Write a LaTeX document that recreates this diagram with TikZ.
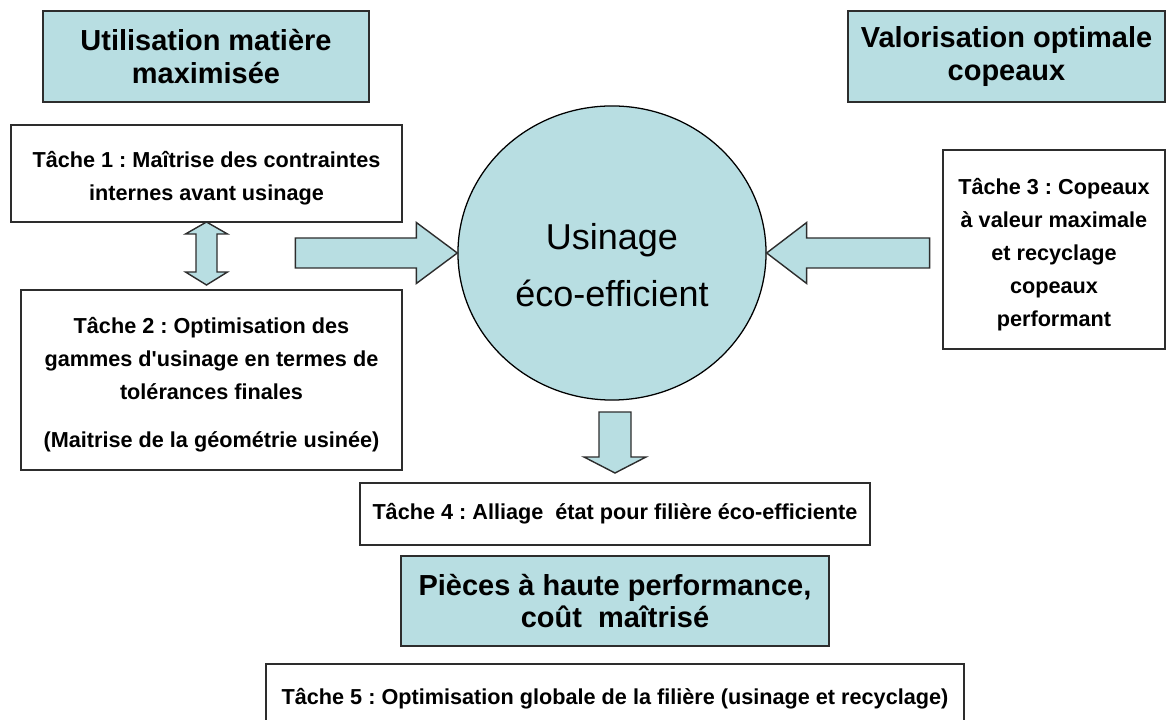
\documentclass[tikz,border=0pt]{standalone}
\usepackage{fontspec}
\setmainfont{Liberation Sans}
\usetikzlibrary{positioning,shapes.geometric}
\definecolor{bleuclair}{RGB}{184,222,226}
\definecolor{bordgris}{RGB}{45,45,45}
\tikzset{
	titre/.style={draw=bordgris, line width=1.4pt, fill=bleuclair, align=center, inner sep=0pt,
		font=\frenchspacing\bfseries\fontsize{20.6}{22.8}\selectfont},
	tache/.style={draw=bordgris, line width=1.4pt, fill=white, align=center, inner sep=0pt,
		font=\frenchspacing\bfseries\fontsize{15.4}{23.5}\selectfont},
	fleche/.style={draw=bordgris, line width=1pt, fill=bleuclair, line join=miter},
}
\begin{document}
\begin{tikzpicture}[x=0.025cm, y=-0.025cm]
			\useasboundingbox (0,0) rectangle (1166,720);
			\node[titre, minimum width=8.15cm, minimum height=2.275cm] (titreMatiere) at (206,56.5) {Utilisation matière\\maximisée};
			\node[titre, minimum width=7.925cm, minimum height=2.275cm] (titreCopeaux) at (1006.5,56.5) {Valorisation optimale\\copeaux};
			
			\node[tache, text height=42.2pt, minimum width=9.775cm, minimum height=2.425cm] (tache1) at (206.5,173.5) {Tâche 1 : Maîtrise des contraintes\\internes avant usinage};
			\node[tache, text height=99.9pt, minimum width=9.525cm, minimum height=4.5cm] (tache2) at (211.5,380) {Tâche 2 : Optimisation des\\gammes d\textquotesingle usinage en termes de\\tolérances finales\\[10.7pt](Maitrise de la géométrie usinée)};
			\node[tache, text height=112.7pt, minimum width=5.55cm, minimum height=4.975cm] (tache3) at (1054,249.5) {Tâche 3 : Copeaux\\à valeur maximale\\et recyclage\\copeaux\\performant};
			
			\node[ellipse, draw=black, line width=0.9pt, fill=bleuclair, minimum width=7.7cm, minimum height=7.35cm, inner sep=0pt,
				align=center, text height=76.5pt, text depth=0pt, font=\fontsize{25.6}{40.5}\selectfont] (usinage) at (612,253) {Usinage\\éco-efficient};
			
			\node[tache, minimum width=12.75cm, minimum height=1.55cm] (tache4) at (615,514) {Tâche 4 : Alliage\ \ état pour filière éco-efficiente};
			\node[titre, minimum width=10.7cm, minimum height=2.25cm, below=0.225cm of tache4] (titrePieces) {Pièces à haute performance,\\coût\ \ maîtrisé};
			\node[tache, minimum width=17.45cm, minimum height=1.75cm, below=0.4cm of titrePieces] (tache5) {Tâche 5 : Optimisation globale de la filière (usinage et recyclage)};
			
			% fleches pleines
			\filldraw[fleche, shift={(tache1.south)}] (0,-1) -- (21,11) -- (10.5,11) -- (10.5,49) -- (21,49) -- (0,62)
				-- (-21,49) -- (-10.5,49) -- (-10.5,11) -- (-21,11) -- cycle;
			\filldraw[fleche, shift={(usinage.west)}] (0,0) -- (-41,-30.5) -- (-41,-15) -- (-162,-15) -- (-162,15) -- (-41,15) -- (-41,30.5) -- cycle;
			\filldraw[fleche, shift={(usinage.east)}] (0,0) -- (40,-30.5) -- (40,-15) -- (163,-15) -- (163,15) -- (40,15) -- (40,30.5) -- cycle;
			\filldraw[fleche, shift={(tache4.north)}] (0,-9) -- (31,-25) -- (16,-25) -- (16,-70) -- (-16,-70) -- (-16,-25) -- (-31,-25) -- cycle;
\end{tikzpicture}
\end{document}
